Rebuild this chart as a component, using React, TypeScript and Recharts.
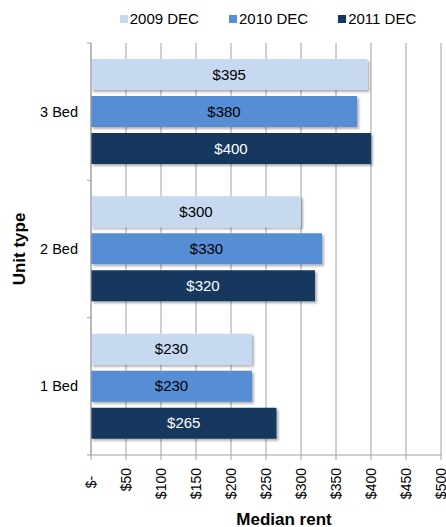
import React from "react";
import {
  BarChart,
  Bar,
  XAxis,
  YAxis,
  CartesianGrid,
  Legend,
  LabelList,
  Label,
} from "recharts";

const units = ["3 Bed", "2 Bed", "1 Bed"];
const rent2009 = [395, 300, 230];
const rent2010 = [380, 330, 230];
const rent2011 = [400, 320, 265];
const rentTicks = [0, 50, 100, 150, 200, 250, 300, 350, 400, 450, 500];

const data = units.map((unit, i) => ({
  unit,
  d2009: rent2009[i],
  d2010: rent2010[i],
  d2011: rent2011[i],
}));

const FONT = "'Liberation Sans', Arial, sans-serif";
const GRID = "#a0a0a0";

const money = (v: number) => (v === 0 ? "$-\u00a0\u00a0" : `$${v}`);

function RentTick(props: any) {
  const { x, y, payload } = props;
  return (
    <text
      x={x}
      y={y}
      transform={`rotate(-90 ${x} ${y})`}
      textAnchor="end"
      dy="0.35em"
      fontSize={14}
      fontFamily={FONT}
      fill="#000"
    >
      {money(payload.value)}
    </text>
  );
}

function UnitTick(props: any) {
  const { x, y, payload, index, visibleTicksCount } = props;
  const half = payload.offset ?? 0;
  const axisX = x + 13;
  return (
    <g>
      <text
        x={x}
        y={y}
        textAnchor="end"
        dy="0.35em"
        fontSize={14.5}
        fontFamily={FONT}
        fill="#000"
      >
        {payload.value}
      </text>
      {index === 0 && (
        <line x1={axisX - 4} x2={axisX} y1={y - half} y2={y - half} stroke={GRID} />
      )}
      <line x1={axisX - 4} x2={axisX} y1={y + half} y2={y + half} stroke={GRID} />
    </g>
  );
}

function LegendBox({ payload }: any) {
  return (
    <div
      style={{
        display: "flex",
        justifyContent: "center",
        gap: 30,
        paddingLeft: 90,
        fontFamily: FONT,
        fontSize: 15,
        color: "#000",
      }}
    >
      {(payload || []).map((item: any) => (
        <div key={item.value} style={{ display: "flex", alignItems: "center" }}>
          <span
            style={{
              width: 8,
              height: 8,
              background: item.color,
              marginRight: 2,
              display: "inline-block",
            }}
          />
          <span>{item.value}</span>
        </div>
      ))}
    </div>
  );
}

export default function App() {
  return (
    <div style={{ position: "absolute", top: 0, left: 0, background: "#fff" }}>
      <BarChart
        width={446}
        height={527}
        data={data}
        layout="vertical"
        margin={{ top: 7, right: 5, bottom: 0, left: 0 }}
        barCategoryGap={16}
        barGap={6}
      >
        <defs>
          <filter id="barShadow" x="-5%" y="-20%" width="115%" height="160%">
            <feDropShadow dx="2" dy="2" stdDeviation="1.2" floodColor="#000" floodOpacity="0.3" />
          </filter>
        </defs>
        <CartesianGrid horizontal={false} stroke={GRID} />
        <Legend
          verticalAlign="top"
          height={36}
          content={<LegendBox />}
          wrapperStyle={{ top: 10, left: 0, width: 446 }}
        />
        <XAxis
          type="number"
          domain={[0, 500]}
          ticks={rentTicks}
          interval={0}
          height={72}
          stroke={GRID}
          tickSize={5}
          tickMargin={8}
          tick={<RentTick />}
        >
          <Label
            content={({ viewBox }: any) => (
              <text
                x={viewBox.x + viewBox.width / 2 + 18}
                y={viewBox.y + 70}
                textAnchor="middle"
                fontSize={17}
                fontWeight="bold"
                fontFamily={FONT}
                fill="#000"
              >
                Median rent
              </text>
            )}
          />
        </XAxis>
        <YAxis
          type="category"
          dataKey="unit"
          width={91}
          stroke={GRID}
          tickLine={false}
          tickSize={0}
          tickMargin={13}
          tick={<UnitTick />}
        >
          <Label
            content={({ viewBox }: any) => {
              const cx = 25;
              const cy = viewBox.y + viewBox.height / 2;
              return (
                <text
                  x={cx}
                  y={cy}
                  transform={`rotate(-90 ${cx} ${cy})`}
                  textAnchor="middle"
                  fontSize={17}
                  fontWeight="bold"
                  fontFamily={FONT}
                  fill="#000"
                >
                  Unit type
                </text>
              );
            }}
          />
        </YAxis>
        <Bar dataKey="d2009" name="2009 DEC" fill="#c6d9f1" filter="url(#barShadow)" isAnimationActive={false}>
          <LabelList dataKey="d2009" position="center" formatter={(v: any) => money(v)} fill="#000" fontSize={15} fontFamily={FONT} />
        </Bar>
        <Bar dataKey="d2010" name="2010 DEC" fill="#558ed5" filter="url(#barShadow)" isAnimationActive={false}>
          <LabelList dataKey="d2010" position="center" formatter={(v: any) => money(v)} fill="#000" fontSize={15} fontFamily={FONT} />
        </Bar>
        <Bar dataKey="d2011" name="2011 DEC" fill="#17375e" filter="url(#barShadow)" isAnimationActive={false}>
          <LabelList dataKey="d2011" position="center" formatter={(v: any) => money(v)} fill="#fff" fontSize={15} fontFamily={FONT} />
        </Bar>
      </BarChart>
    </div>
  );
}
